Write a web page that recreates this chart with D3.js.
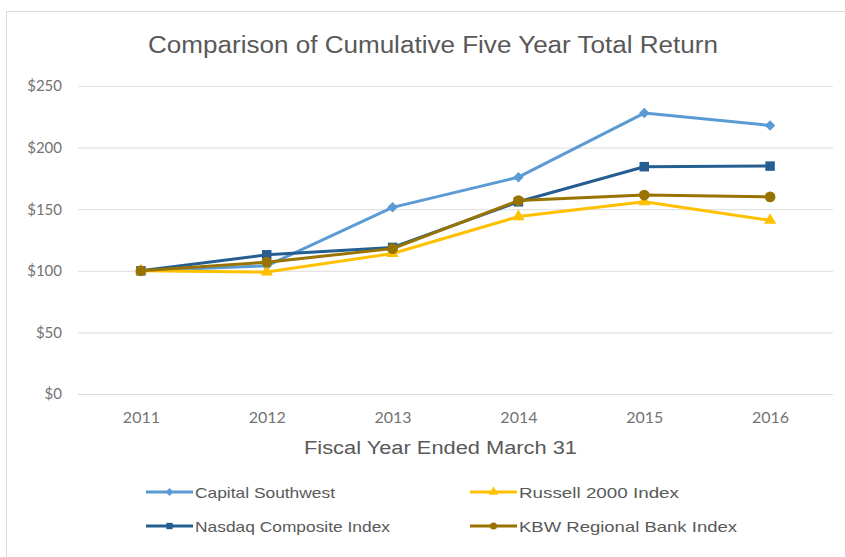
<!DOCTYPE html>
<html>
<head>
<meta charset="utf-8">
<script src="https://cdn.jsdelivr.net/npm/d3@7"></script>
<style>
  body { margin: 0; background: #fff; }
  svg { display: block; }
</style>
</head>
<body>
<div id="chart"></div>
<script>
const years = ['2011', '2012', '2013', '2014', '2015', '2016'];
const capitalSouthwest = [100, 104, 151.5, 176, 228, 218];
const russell2000 = [100, 99, 114, 144, 156, 141];
const nasdaqComposite = [100, 113, 119, 156, 184.5, 185];
const kbwRegionalBank = [100, 107, 118, 157, 161.5, 160];
const yTicks = [0, 50, 100, 150, 200, 250];

const series = [
  { name: 'Capital Southwest', values: capitalSouthwest, color: '#5b9bd5', marker: 'diamond', textW: 140 },
  { name: 'Russell 2000 Index', values: russell2000, color: '#ffc000', marker: 'triangle', textW: 160 },
  { name: 'Nasdaq Composite Index', values: nasdaqComposite, color: '#255e91', marker: 'square', textW: 195 },
  { name: 'KBW Regional Bank Index', values: kbwRegionalBank, color: '#997300', marker: 'circle', textW: 218 }
];

const width = 845, height = 557;
const margin = { top: 86, right: 12, bottom: 163, left: 78 };

const svg = d3.select('#chart')
  .append('svg')
  .attr('width', width)
  .attr('height', height);

// chart frame
svg.append('rect')
  .attr('x', 6.5).attr('y', 11.5)
  .attr('width', width + 10).attr('height', height + 10)
  .attr('fill', '#fff')
  .attr('stroke', '#d9d9d9');

const x = d3.scalePoint()
  .domain(years)
  .range([margin.left, width - margin.right])
  .padding(0.5);

const y = d3.scaleLinear()
  .domain([0, 250])
  .range([height - margin.bottom, margin.top]);

const symbols = {
  diamond: d3.symbol().type(d3.symbolDiamond2).size(70),
  square: d3.symbol().type(d3.symbolSquare).size(90),
  triangle: d3.symbol().type(d3.symbolTriangle).size(65),
  circle: d3.symbol().type(d3.symbolCircle).size(90)
};

// gridlines + y axis labels
const yAxis = svg.append('g')
  .attr('transform', `translate(${margin.left},0)`)
  .call(d3.axisLeft(y)
    .tickValues(yTicks)
    .tickSize(-(width - margin.left - margin.right))
    .tickPadding(16)
    .tickFormat(d => '$' + d));
yAxis.select('.domain').remove();
yAxis.selectAll('.tick line').attr('stroke', '#e3e3e3').attr('stroke-width', 1.2);
yAxis.selectAll('.tick line').filter(d => d === 0).attr('stroke', '#d9d9d9');
yAxis.selectAll('.tick text')
  .attr('fill', '#737373')
  .style('font-family', 'Lato, "Open Sans", sans-serif')
  .style('font-size', '15px');

// x axis labels
const xAxis = svg.append('g')
  .attr('transform', `translate(0,${height - margin.bottom})`)
  .call(d3.axisBottom(x).tickSize(0).tickPadding(18));
xAxis.select('.domain').remove();
xAxis.selectAll('.tick text')
  .attr('fill', '#737373')
  .style('font-family', 'Lato, "Open Sans", sans-serif')
  .style('font-size', '16px');

// title
svg.append('text')
  .attr('x', 148).attr('y', 53)
  .attr('fill', '#595959')
  .attr('textLength', 570)
  .attr('lengthAdjust', 'spacingAndGlyphs')
  .style('font-family', '"Liberation Sans", Arial, sans-serif')
  .style('font-size', '23px')
  .text('Comparison of Cumulative Five Year Total Return');

// x axis title
svg.append('text')
  .attr('x', 304).attr('y', 454)
  .attr('fill', '#595959')
  .attr('textLength', 273)
  .attr('lengthAdjust', 'spacingAndGlyphs')
  .style('font-family', '"Liberation Sans", Arial, sans-serif')
  .style('font-size', '18px')
  .text('Fiscal Year Ended March 31');

const line = d3.line()
  .x((d, i) => x(years[i]))
  .y(d => y(d));

const drawOrder = [0, 2, 1, 3];
drawOrder.forEach(k => {
  const s = series[k];
  const g = svg.append('g');
  g.append('path')
    .datum(s.values)
    .attr('fill', 'none')
    .attr('stroke', s.color)
    .attr('stroke-width', 3)
    .attr('stroke-linejoin', 'round')
    .attr('d', line);
  g.selectAll('path.marker')
    .data(s.values)
    .enter()
    .append('path')
    .attr('class', 'marker')
    .attr('transform', (d, i) => `translate(${x(years[i])},${y(d)})`)
    .attr('d', symbols[s.marker])
    .attr('fill', s.color);
});

// legend
const legendPos = [
  { x: 146, y: 492 },
  { x: 470, y: 492 },
  { x: 146, y: 526 },
  { x: 470, y: 526 }
];
series.forEach((s, i) => {
  const p = legendPos[i];
  const g = svg.append('g').attr('transform', `translate(${p.x},${p.y})`);
  g.append('line')
    .attr('x1', 0).attr('x2', 47)
    .attr('stroke', s.color)
    .attr('stroke-width', 3);
  g.append('path')
    .attr('transform', 'translate(23.5,0)')
    .attr('d', d3.symbol().type(symbols[s.marker].type()).size(40))
    .attr('fill', s.color);
  g.append('text')
    .attr('x', 49).attr('y', 5.5)
    .attr('fill', '#595959')
    .attr('textLength', s.textW)
    .attr('lengthAdjust', 'spacingAndGlyphs')
    .style('font-family', '"Liberation Sans", Arial, sans-serif')
    .style('font-size', '15px')
    .text(s.name);
});
</script>
</body>
</html>
